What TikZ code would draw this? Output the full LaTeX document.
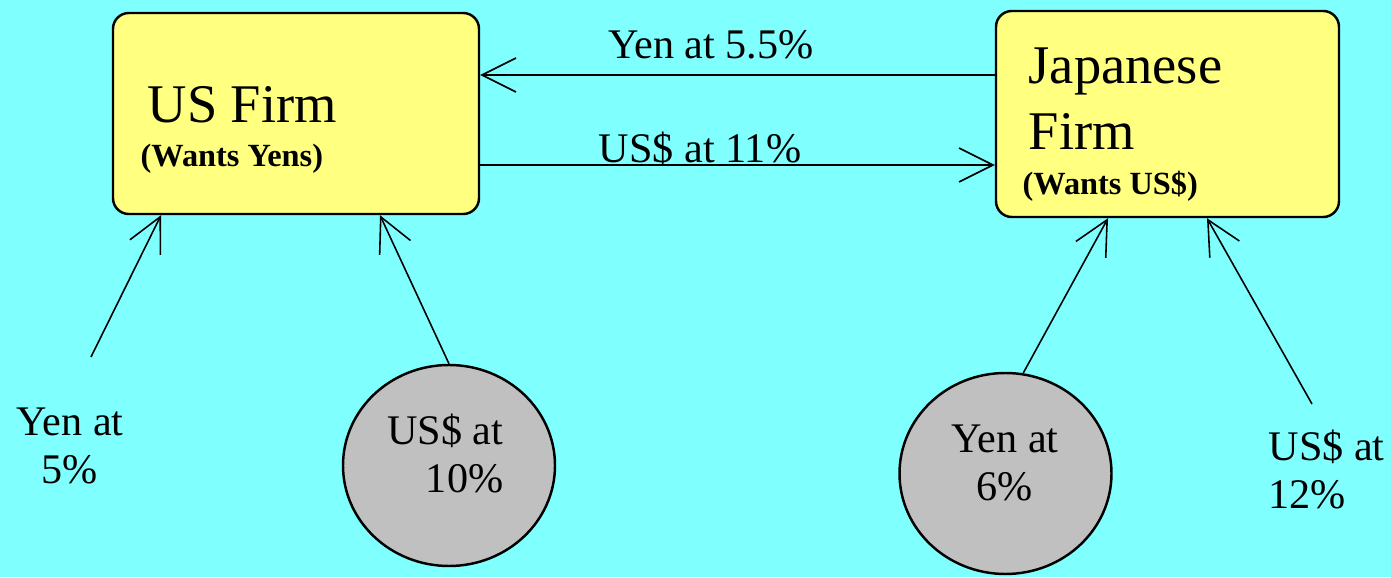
\documentclass[tikz,border=0pt]{standalone}
\usepackage{fontspec}
\setmainfont{Liberation Serif}
\usetikzlibrary{positioning,arrows.meta,shapes.geometric}
\definecolor{sky}{HTML}{80FFFF}
\definecolor{pad}{HTML}{FFFF80}
\definecolor{coin}{HTML}{C0C0C0}

\begin{document}
\begin{tikzpicture}[
  firm/.style={draw, rounded corners=4.5pt, line width=0.7pt, fill=pad},
  title/.style={font=\fontsize{15.5}{19}\selectfont, align=left, inner sep=0pt},
  wants/.style={font=\fontsize{9.2}{11}\selectfont\bfseries, inner sep=0pt},
  pool/.style={draw, ellipse, line width=0.7pt, fill=coin,
               minimum width=2.12cm, minimum height=2.01cm},
  rate/.style={font=\fontsize{12}{13.6}\selectfont, inner sep=0pt},
  arr/.style={-{Straight Barb[length=3.4mm, width=3.4mm]}, line width=0.45pt}
]
  % background and page size
  \fill[sky] (0,0) rectangle (13.91,5.77);
  \useasboundingbox (0,0) rectangle (13.91,5.77);

  % the two firms
  \node[firm, minimum width=3.66cm, minimum height=2.01cm] (us) at (2.96,4.635) {};
  \node[title, anchor=base west] (usname) at (1.47,4.54) {US Firm};
  \node[wants, anchor=base west] (uswant) at (1.40,4.10) {(Wants Yens)};

  \node[firm, minimum width=3.43cm, minimum height=2.06cm] (jp) at (11.675,4.63) {};
  \node[title, anchor=base west] (jpname) at (10.28,4.27) {Japanese\\Firm};
  \node[wants, anchor=base west] (jpwant) at (10.22,3.82) {(Wants US\$)};

  % the swap
  \draw[arr] (jp.west |- 0,5.02) -- (us.east |- 0,5.02);
  \node[rate, anchor=base] (yen55) at (7.11,5.18) {Yen at 5.5\%};
  \draw[arr] (us.east |- 0,4.12) -- (jp.west |- 0,4.12);
  \node[rate, anchor=base] (usd11) at (7.00,4.14) {US\$ at 11\%};

  % market rates (base = last line)
  \node[rate, align=center, anchor=base] (yen5) at (0.70,0.94) {Yen at\\5\%};
  \node[pool] (c1) at (4.49,1.115) {};
  \node[rate, align=right, anchor=base east] (usd10) at (5.04,0.85) {US\$ at\\10\%};
  \node[pool] (c2) at (10.055,1.035) {};
  \node[rate, align=center, anchor=base] (yen6) at (10.05,0.77) {Yen at\\6\%};
  \node[rate, align=left, anchor=base west] (usd12) at (12.68,0.69) {US\$ at\\12\%};

  \coordinate (t5) at (0.91,2.20);
  \coordinate (t12) at (13.12,1.73);
  \draw[arr] (t5) -- (1.61,0 |- us.south);
  \draw[arr] (c1.north) -- (3.80,0 |- us.south);
  \draw[arr] (c2.80) -- (11.08,0 |- jp.south);
  \draw[arr] (t12) -- (12.07,0 |- jp.south);
\end{tikzpicture}
\end{document}
